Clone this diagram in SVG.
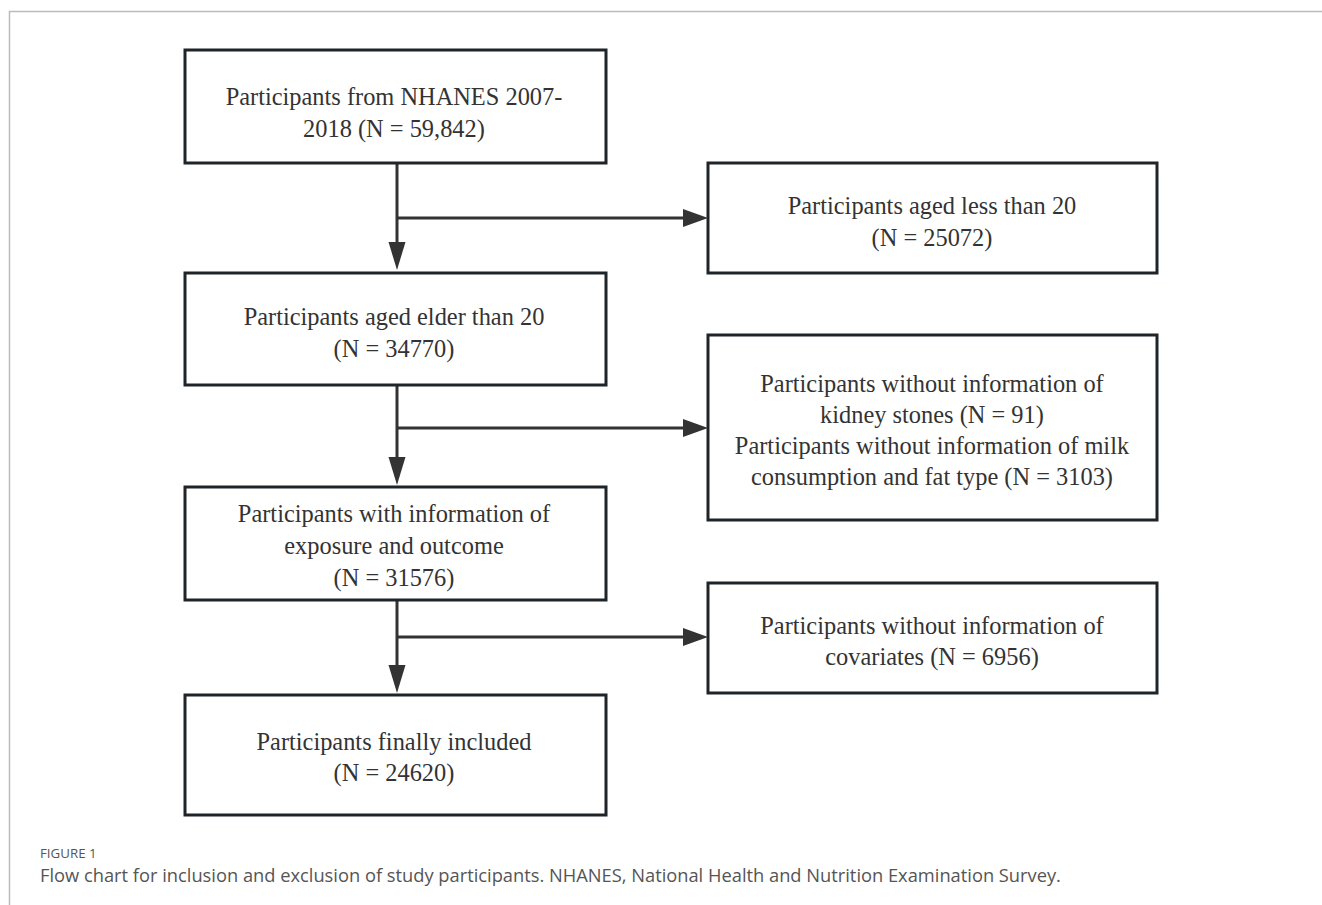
<svg xmlns="http://www.w3.org/2000/svg" width="1322" height="905" viewBox="0 0 1322 905">
<defs>
<style>
.box{fill:#fff;stroke:#1f2429;stroke-width:3}
.t{font-family:"Liberation Serif","Times New Roman",serif;font-size:24.4px;fill:#333;text-anchor:middle}
.ln{stroke:#333;stroke-width:3;fill:none}
.cap{font-family:"Open Sans",sans-serif;fill:#555}
</style>
</defs>
<rect width="1322" height="905" fill="#fff"/>
<path d="M9.5,905 V11.5 H1322" fill="none" stroke="#bbb" stroke-width="1.5"/>
<g id="connectors">
<line class="ln" x1="397" y1="163" x2="397" y2="248"/>
<line class="ln" x1="397" y1="218" x2="686" y2="218"/>
<path d="M388.5,242 L405.5,242 L397,270 z" fill="#333"/>
<path d="M683,209 L708,218 L683,227 z" fill="#333"/>
<line class="ln" x1="397" y1="385" x2="397" y2="462"/>
<line class="ln" x1="397" y1="428" x2="686" y2="428"/>
<path d="M388.5,457 L405.5,457 L397,485 z" fill="#333"/>
<path d="M683,419 L708,428 L683,437 z" fill="#333"/>
<line class="ln" x1="397" y1="600" x2="397" y2="670"/>
<line class="ln" x1="397" y1="637" x2="686" y2="637"/>
<path d="M388.5,665 L405.5,665 L397,693 z" fill="#333"/>
<path d="M683,628 L708,637 L683,646 z" fill="#333"/>
</g>
<g id="n1">
<rect class="box" x="185" y="50" width="421" height="113"/>
<text class="t" x="394" y="105">Participants from NHANES 2007-</text>
<text class="t" x="394" y="137">2018 (N = 59,842)</text>
</g>
<g id="e1">
<rect class="box" x="708" y="163" width="449" height="110"/>
<text class="t" x="932" y="214">Participants aged less than 20</text>
<text class="t" x="932" y="246">(N = 25072)</text>
</g>
<g id="n2">
<rect class="box" x="185" y="273" width="421" height="112"/>
<text class="t" x="394" y="325">Participants aged elder than 20</text>
<text class="t" x="394" y="357">(N = 34770)</text>
</g>
<g id="e2">
<rect class="box" x="708" y="335" width="449" height="185"/>
<text class="t" x="932" y="392">Participants without information of</text>
<text class="t" x="932" y="423">kidney stones (N = 91)</text>
<text class="t" x="932" y="454">Participants without information of milk</text>
<text class="t" x="932" y="485">consumption and fat type (N = 3103)</text>
</g>
<g id="n3">
<rect class="box" x="185" y="487" width="421" height="113"/>
<text class="t" x="394" y="522">Participants with information of</text>
<text class="t" x="394" y="554">exposure and outcome</text>
<text class="t" x="394" y="586">(N = 31576)</text>
</g>
<g id="e3">
<rect class="box" x="708" y="583" width="449" height="110"/>
<text class="t" x="932" y="634">Participants without information of</text>
<text class="t" x="932" y="665">covariates (N = 6956)</text>
</g>
<g id="n4">
<rect class="box" x="185" y="695" width="421" height="120"/>
<text class="t" x="394" y="750">Participants finally included</text>
<text class="t" x="394" y="781">(N = 24620)</text>
</g>
<g id="caption">
<text class="cap" x="40" y="858" font-size="13.3">FIGURE 1</text>
<text class="cap" x="40" y="882" font-size="18.3">Flow chart for inclusion and exclusion of study participants. NHANES, National Health and Nutrition Examination Survey.</text>
</g>
</svg>
